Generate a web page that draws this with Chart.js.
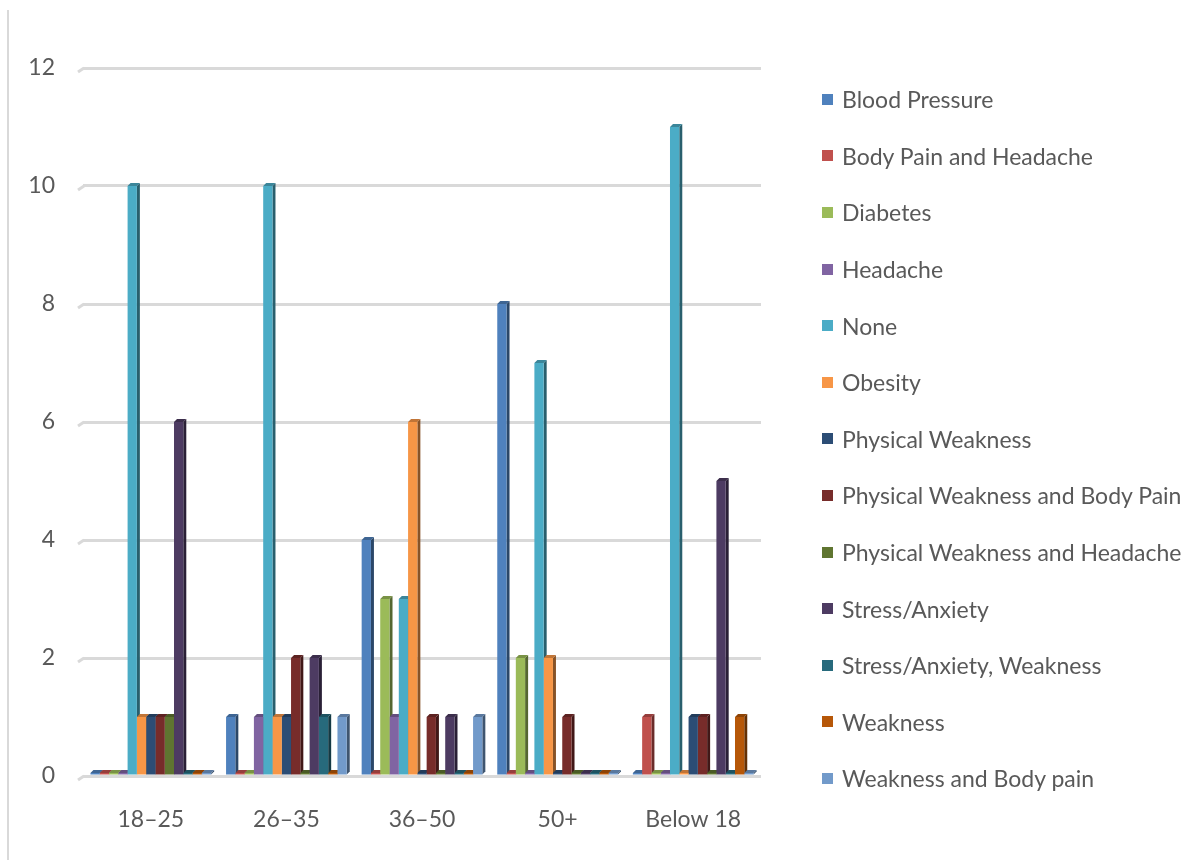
<!DOCTYPE html>
<html>
<head>
<meta charset="utf-8">
<script src="https://cdn.jsdelivr.net/npm/chart.js@4"></script>
<style>
  html, body { margin: 0; padding: 0; background: #ffffff; }
  #wrap { position: relative; width: 1203px; height: 860px; overflow: hidden; }
  #frame { position: absolute; left: 7px; top: 10px; width: 0; height: 860px; border-left: 2px solid #d9d9d9; }
  #legend { position: absolute; left: 822px; top: 71px; font-family: Lato, "Open Sans", sans-serif; font-size: 23px; color: #595959; }
  #legend .row { height: 56.6px; display: flex; align-items: center; white-space: nowrap; }
  #legend .sw { width: 11px; height: 11px; margin-right: 9px; flex: none; }
</style>
</head>
<body>
<div id="wrap">
  <div id="frame"></div>
  <canvas id="c" width="1203" height="860"></canvas>
  <div id="legend"></div>
</div>
<script>
// Age groups along the x axis
const categories = ['18–25', '26–35', '36–50', '50+', 'Below 18'];

// Health condition series (counts per age group)
const bloodPressure         = [0, 1, 4, 8, 0];
const bodyPainHeadache      = [0, 0, 0, 0, 1];
const diabetes              = [0, 0, 3, 2, 0];
const headache              = [0, 1, 1, 0, 0];
const noneReported          = [10, 10, 3, 7, 11];
const obesity               = [1, 1, 6, 2, 0];
const physicalWeakness      = [1, 1, 0, 0, 1];
const weaknessBodyPain      = [1, 2, 1, 1, 1];
const weaknessHeadache      = [1, 0, 0, 0, 0];
const stressAnxiety         = [6, 2, 1, 0, 5];
const stressWeakness        = [0, 1, 0, 0, 0];
const weakness              = [0, 0, 0, 0, 1];
const weaknessAndBodyPain   = [0, 1, 1, 0, 0];

const seriesNames = [
  'Blood Pressure', 'Body Pain and Headache', 'Diabetes', 'Headache', 'None',
  'Obesity', 'Physical Weakness', 'Physical Weakness and Body Pain',
  'Physical Weakness and Headache', 'Stress/Anxiety', 'Stress/Anxiety, Weakness',
  'Weakness', 'Weakness and Body pain'
];
const seriesValues = [
  bloodPressure, bodyPainHeadache, diabetes, headache, noneReported,
  obesity, physicalWeakness, weaknessBodyPain, weaknessHeadache,
  stressAnxiety, stressWeakness, weakness, weaknessAndBodyPain
];
const seriesColors = [
  '#4F81BD', '#C0504D', '#9BBB59', '#8064A2', '#4BACC6',
  '#F79646', '#2C4D75', '#772C2A', '#5F7530',
  '#4D3B62', '#276A7C', '#B65708', '#729ACA'
];

// y axis ticks
const yMin = 0, yMax = 12, yStep = 2;

function shade(hex, f) {
  const n = parseInt(hex.slice(1), 16);
  const r = Math.round(((n >> 16) & 255) * f);
  const g = Math.round(((n >> 8) & 255) * f);
  const b = Math.round((n & 255) * f);
  return `rgb(${r},${g},${b})`;
}

// Side and top faces give each column a little depth; the front faces are drawn by Chart.js on top.
const barDepth = {
  id: 'barDepth',
  beforeDatasetsDraw(chart) {
    const ctx = chart.ctx;
    const area = chart.chartArea;
    const d = 3;
    ctx.save();
    // slanted floor edge at the start of every gridline
    const yScale = chart.scales.y;
    ctx.strokeStyle = '#d9d9d9';
    ctx.lineWidth = 3;
    yScale.ticks.forEach((t, i) => {
      const py = yScale.getPixelForTick(i);
      ctx.beginPath();
      ctx.moveTo(area.left + 1, py);
      ctx.lineTo(area.left - 5, py + 4);
      ctx.stroke();
    });
    chart.data.datasets.forEach((ds, i) => {
      const meta = chart.getDatasetMeta(i);
      if (meta.hidden) return;
      meta.data.forEach(bar => {
        const p = bar.getProps(['x', 'y', 'base', 'width'], true);
        const l = p.x - p.width / 2, r = p.x + p.width / 2;
        const top = Math.min(p.y, p.base), bottom = Math.max(p.y, p.base);
        ctx.fillStyle = shade(ds.backgroundColor, 0.55);
        ctx.beginPath();
        ctx.moveTo(r, bottom); ctx.lineTo(r, top);
        ctx.lineTo(r + d, top - d); ctx.lineTo(r + d, bottom - d);
        ctx.closePath(); ctx.fill();
        ctx.fillStyle = shade(ds.backgroundColor, 0.78);
        ctx.beginPath();
        ctx.moveTo(l, top); ctx.lineTo(l + d, top - d);
        ctx.lineTo(r + d, top - d); ctx.lineTo(r, top);
        ctx.closePath(); ctx.fill();
      });
    });
    ctx.restore();
  }
};

const datasets = seriesNames.map((name, i) => ({
  label: name,
  data: seriesValues[i],
  backgroundColor: seriesColors[i],
  borderWidth: 0,
  minBarLength: 3,
  categoryPercentage: 0.89,
  barPercentage: 1.0
}));

const font = { family: 'Lato, "Open Sans", sans-serif', size: 23 };

new Chart(document.getElementById('c'), {
  type: 'bar',
  data: { labels: categories, datasets },
  plugins: [barDepth],
  options: {
    responsive: false,
    animation: false,
    layout: { padding: { top: 68, right: 442, bottom: 0, left: 0 } },
    plugins: { legend: { display: false }, tooltip: { enabled: false } },
    scales: {
      x: {
        grid: { display: false, drawTicks: false },
        border: { display: false },
        ticks: { font, color: '#595959', padding: 30 },
        afterFit(s) { s.height = 84; }
      },
      y: {
        min: yMin, max: yMax,
        grid: { color: '#d9d9d9', lineWidth: 3, drawTicks: false },
        border: { display: false },
        ticks: { stepSize: yStep, font, color: '#595959', padding: 28 },
        afterFit(s) { s.width = 83; }
      }
    }
  }
});

// Legend column
const legend = document.getElementById('legend');
seriesNames.forEach((name, i) => {
  const row = document.createElement('div');
  row.className = 'row';
  const sw = document.createElement('span');
  sw.className = 'sw';
  sw.style.background = seriesColors[i];
  const tx = document.createElement('span');
  tx.textContent = name;
  row.appendChild(sw);
  row.appendChild(tx);
  legend.appendChild(row);
});
</script>
</body>
</html>
